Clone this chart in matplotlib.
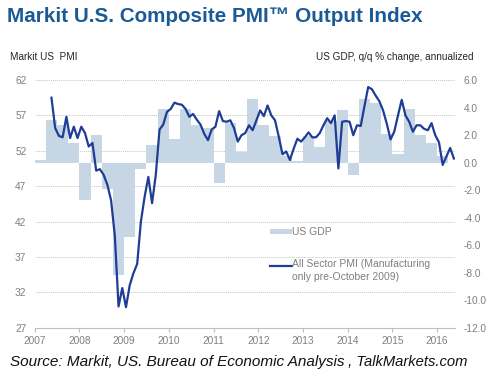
import numpy as np
import pandas as pd
import matplotlib
matplotlib.use("Agg")
import matplotlib.pyplot as plt
from matplotlib.patches import Rectangle
from matplotlib.lines import Line2D

plt.rcParams['font.family'] = ['Liberation Sans', 'DejaVu Sans']

# US GDP, q/q % change annualized, 2007Q1 .. 2016Q1
gdp_start = "2007Q1"
gdp = [0.2, 3.1, 2.7, 1.4, -2.7, 2.0, -1.9, -8.2,
       -5.4, -0.5, 1.3, 3.9, 1.7, 3.9, 2.7, 2.5,
       -1.5, 2.9, 0.8, 4.6, 2.7, 1.9, 0.5, 0.1,
       1.9, 1.1, 3.0, 3.8, -0.9, 4.6, 4.3, 2.1,
       0.6, 3.9, 2.0, 1.4, 0.5]

# Markit all sector PMI, monthly from May 2007
pmi_start = "2007-05"
pmi = [59.5, 55.2, 54.1, 53.9, 56.8, 53.8, 55.4, 53.8,
       55.4, 54.5, 52.6, 53.1, 49.2, 49.4, 48.6, 47.2, 45.0, 40.0, 30.0, 32.6,
       29.9, 33.0, 34.7, 36.0, 42.0, 45.5, 48.3, 44.6, 48.6, 55.0, 55.7, 57.5,
       57.9, 58.8, 58.6, 58.5, 57.9, 56.8, 57.2, 56.4, 55.7, 54.4, 53.5, 55.0,
       55.4, 57.6, 56.2, 56.1, 56.3, 55.2, 53.3, 54.2, 54.5, 55.6, 54.9, 56.3,
       57.7, 56.9, 58.4, 57.0, 56.3, 54.0, 51.5, 51.9, 50.7, 52.3, 53.7, 53.3,
       53.9, 54.6, 53.9, 53.9, 54.5, 55.6, 56.6, 55.9, 57.0, 49.5, 56.1, 56.2,
       56.1, 54.2, 55.6, 55.5, 58.3, 61.0, 60.7, 59.8, 59.0, 57.7, 55.8, 53.6,
       54.7, 57.0, 59.2, 57.0, 56.1, 54.7, 55.6, 55.6, 55.1, 54.9, 55.9, 54.2,
       53.2, 50.0, 51.2, 52.4, 50.9]

years = list(range(2007, 2017))
pmi_ticks = [27, 32, 37, 42, 47, 52, 57, 62]
gdp_ticks = [-12, -10, -8, -6, -4, -2, 0, 2, 4, 6]

quarters = pd.period_range(gdp_start, periods=len(gdp), freq="Q")
q_x = np.array([p.year + (p.quarter - 1) / 4 for p in quarters])
months = pd.period_range(pmi_start, periods=len(pmi), freq="M")
m_x = np.array([p.year + (p.month - 0.5) / 12 for p in months])

title_col = "#1b5a97"
line_col = "#1f3d94"
bar_col = "#c6d6e4"
grey = "#7f7f7f"

fig = plt.figure(figsize=(4.93, 3.77), dpi=100)
rect = [34.7 / 493, 1 - 327.7 / 377, 420.3 / 493, 247.7 / 377]

# bottom layer: grid, left axis, x axis
ax = fig.add_axes(rect)
ax.set_xlim(2007, 2016.40)
ax.set_ylim(27, 62)
ax.set_yticks(pmi_ticks)
ax.set_xticks(years)
ax.grid(axis='y', color='#c4c4c4', linestyle=(0, (1, 1)), linewidth=0.7)
for s in ['top', 'right', 'left']:
    ax.spines[s].set_visible(False)
ax.spines['bottom'].set_color('#bfbfbf')
ax.tick_params(axis='y', length=0, labelsize=7.3, labelcolor=grey, pad=6)
ax.tick_params(axis='x', length=3, color='#bfbfbf', labelsize=7.3, labelcolor=grey, pad=3)

# middle layer: GDP bars on right axis
ax2 = ax.twinx()
ax2.set_ylim(-12, 6)
ax2.bar(q_x, gdp, width=0.25, align='edge', color=bar_col, linewidth=0)
ax2.set_yticks(gdp_ticks)
ax2.set_yticklabels([f"{v:.1f}" for v in gdp_ticks])
for s in ax2.spines.values():
    s.set_visible(False)
ax2.tick_params(axis='y', length=0, labelsize=7.3, labelcolor=grey, pad=6)

# top layer: PMI line
ax3 = fig.add_axes(rect, sharex=ax, sharey=ax)
ax3.axis('off')
ax3.plot(m_x, pmi, color=line_col, linewidth=1.6, solid_joinstyle='round')

# legend
ax3.add_patch(Rectangle((0.560, 0.378), 0.0515, 0.019, transform=ax3.transAxes,
                        color=bar_col, linewidth=0, clip_on=False))
ax3.text(0.613, 0.388, "US GDP", transform=ax3.transAxes, fontsize=7.5,
         color=grey, va='center', ha='left')
ax3.add_line(Line2D([0.560, 0.6115], [0.249, 0.249], transform=ax3.transAxes,
                    color=line_col, linewidth=1.6))
ax3.text(0.613, 0.276, "All Sector PMI (Manufacturing\nonly pre-October 2009)",
         transform=ax3.transAxes, fontsize=7.5, color=grey, va='top',
         ha='left', linespacing=1.35)

# titles
fig.text(7 / 493, 1 - 17 / 377, "Markit U.S. Composite PMI™ Output Index",
         fontsize=14.9, fontweight='bold', color=title_col, va='center', ha='left')
fig.text(10 / 493, 1 - 57 / 377, "Markit US  PMI", fontsize=7.2, color='#262626',
         va='center', ha='left')
fig.text(474 / 493, 1 - 57 / 377, "US GDP, q/q % change, annualized", fontsize=7.2,
         color='#262626', va='center', ha='right')
fig.text(10 / 493, 1 - 362 / 377, "Source: Markit, US. Bureau of Economic Analysis",
         fontsize=11, style='italic', color='#111111', va='center', ha='left')
fig.text(344 / 493, 1 - 362 / 377, " , TalkMarkets.com",
         fontsize=10.6, style='italic', color='#111111', va='center', ha='left')

fig.savefig("out.png", dpi=100)
